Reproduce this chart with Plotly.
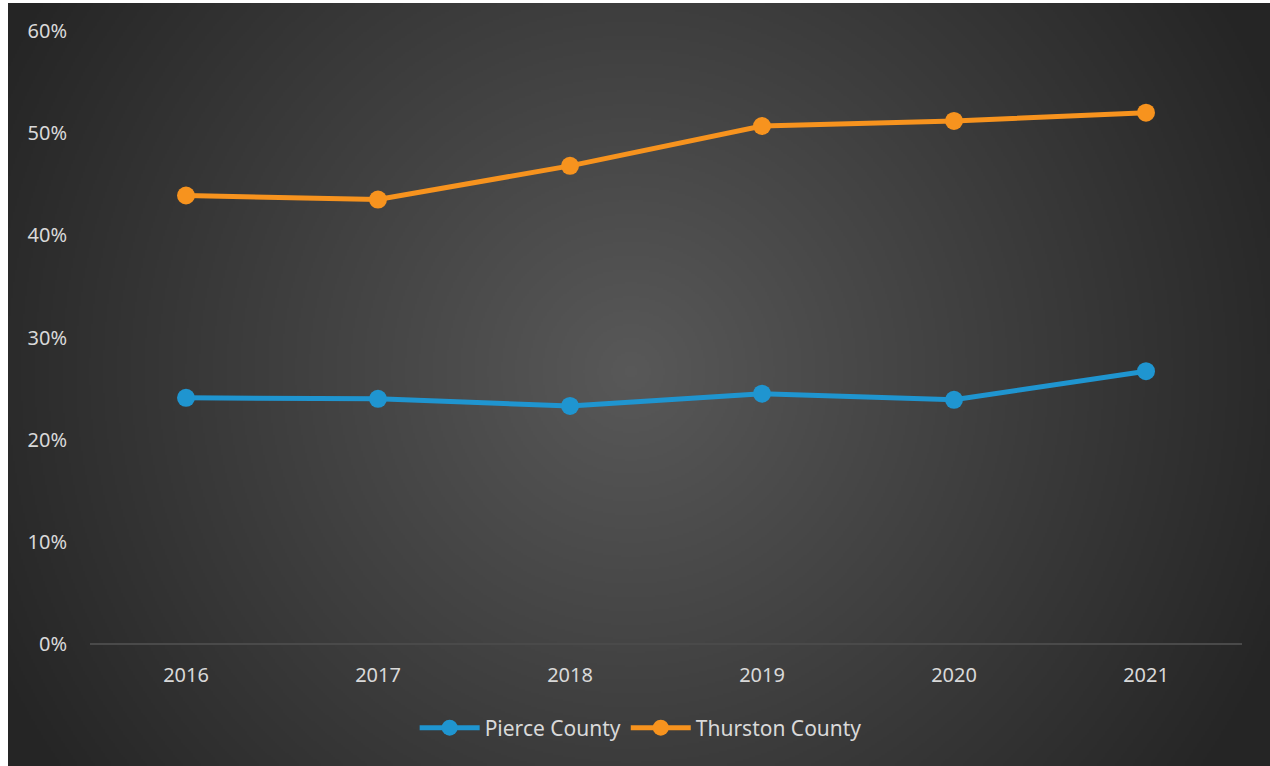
import base64, struct, zlib
import numpy as np
import plotly.graph_objects as go

years = ["2016", "2017", "2018", "2019", "2020", "2021"]
pierce = [0.241, 0.240, 0.233, 0.245, 0.239, 0.267]
thurston = [0.439, 0.435, 0.468, 0.507, 0.512, 0.520]
series_names = ["Pierce County", "Thurston County"]
y_ticks = [0, 0.1, 0.2, 0.3, 0.4, 0.5, 0.6]

BLUE = "#1F95D0"
ORANGE = "#F7931E"
TEXT = "#D9D9D9"

W, H = 1270, 766
L, R, T, B = 90, 28, 31, 122
PW, PH = W - L - R, H - T - B


def gradient_png(w, h, cx, cy, rad, c0, c1):
    yy, xx = np.mgrid[0:h, 0:w].astype(float)
    d = np.sqrt((xx - cx) ** 2 + (yy - cy) ** 2) / rad
    t = np.clip(d, 0, 1)
    t = t ** 1.0
    img = np.zeros((h, w, 3), dtype=np.uint8)
    for i in range(3):
        img[..., i] = np.round(c0[i] + (c1[i] - c0[i]) * t).astype(np.uint8)
    raw = b"".join(b"\x00" + img[r].tobytes() for r in range(h))

    def chunk(tag, data):
        c = struct.pack(">I", len(data)) + tag + data
        return c + struct.pack(">I", zlib.crc32(tag + data) & 0xFFFFFFFF)

    png = b"\x89PNG\r\n\x1a\n" + chunk(b"IHDR", struct.pack(">IIBBBBB", w, h, 8, 2, 0, 0, 0))
    png += chunk(b"IDAT", zlib.compress(raw, 9)) + chunk(b"IEND", b"")
    return "data:image/png;base64," + base64.b64encode(png).decode()


# background box from pixel (8,3) to (1270,766)
bx0, by0, bx1, by1 = 8, 3, 1270, 766
bw, bh = bx1 - bx0, by1 - by0
scale = 2
src = gradient_png(bw // scale, bh // scale, (630 - bx0) / scale, (370 - by0) / scale,
                   700 / scale, (0x58, 0x58, 0x58), (0x25, 0x25, 0x25))

fig = go.Figure()
for name, vals, col in [(series_names[0], pierce, BLUE), (series_names[1], thurston, ORANGE)]:
    fig.add_trace(go.Scatter(
        x=years, y=vals, name=name, mode="lines+markers",
        line=dict(color=col, width=5),
        marker=dict(color=col, size=18, line=dict(width=0)),
    ))

fig.add_layout_image(dict(
    source=src, xref="paper", yref="paper",
    x=(bx0 - L) / PW, y=1 + (T - by0) / PH,
    sizex=bw / PW, sizey=bh / PH,
    sizing="stretch", xanchor="left", yanchor="top", layer="below",
))

fig.update_layout(
    width=W, height=H,
    margin=dict(l=L, r=R, t=T, b=B),
    paper_bgcolor="white",
    plot_bgcolor="rgba(0,0,0,0)",
    font=dict(family="Noto Sans", color=TEXT, size=20),
    showlegend=True,
    legend=dict(orientation="h", x=0.478, xanchor="center", y=(T + PH - 728) / PH, yanchor="middle",
                font=dict(size=21, color=TEXT), bgcolor="rgba(0,0,0,0)",
                itemwidth=60, tracegroupgap=0),
    xaxis=dict(type="category", range=[-0.5, 5.5], showgrid=False, zeroline=False,
               showline=False, ticks="", tickfont=dict(size=20, color=TEXT),
               ticklabelstandoff=17, fixedrange=True),
    yaxis=dict(range=[0, 0.6], tickvals=y_ticks, tickformat=".0%", showgrid=False,
               zeroline=True, zerolinecolor="#4a4a4a", zerolinewidth=2,
               showline=False, ticks="", tickfont=dict(size=20, color=TEXT),
               ticklabelstandoff=22, fixedrange=True),
)

fig.write_html("out.html")
